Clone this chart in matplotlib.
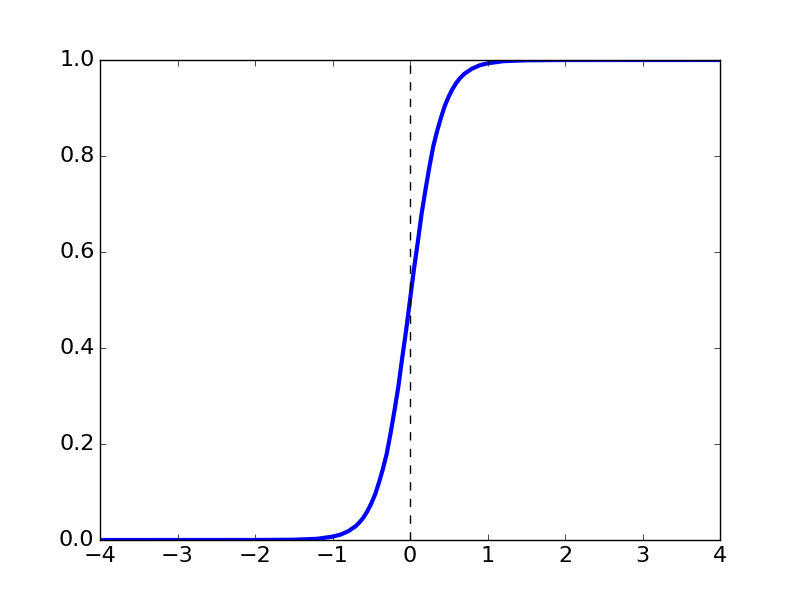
import matplotlib
matplotlib.use('Agg')
import matplotlib.pyplot as plt

plt.style.use('classic')
plt.rcParams['font.size'] = 16

# values
x_vals = [-4.0, -2.0, -1.5, -1.2, -1.0, -0.9, -0.8, -0.7, -0.65, -0.6, -0.55, -0.5,
          -0.45, -0.4, -0.35, -0.3, -0.25, -0.2, -0.15, -0.1, -0.05, 0.0,
          0.05, 0.1, 0.15, 0.2, 0.25, 0.3, 0.35, 0.4, 0.45, 0.5, 0.55, 0.6,
          0.65, 0.7, 0.8, 0.9, 1.0, 1.2, 1.5, 2.0, 4.0]
y_vals = [0.0, 0.00005, 0.0006, 0.0025, 0.007, 0.011, 0.018, 0.029, 0.037, 0.047,
          0.06, 0.076, 0.095, 0.12, 0.148, 0.18, 0.223, 0.27, 0.32, 0.38, 0.437,
          0.5, 0.563, 0.62, 0.68, 0.73, 0.777, 0.82, 0.852, 0.88, 0.905, 0.924,
          0.94, 0.953, 0.963, 0.971, 0.982, 0.989, 0.993, 0.9975, 0.9994,
          0.99995, 1.0]

fig = plt.figure(figsize=(8, 6), dpi=100)
ax = fig.add_subplot(111)
ax.plot(x_vals, y_vals, color='blue', linewidth=3)
ax.axvline(0, color='black', linestyle='--')
ax.set_xlim(-4, 4)
ax.set_ylim(0, 1)

plt.savefig('out.png', dpi=100)
